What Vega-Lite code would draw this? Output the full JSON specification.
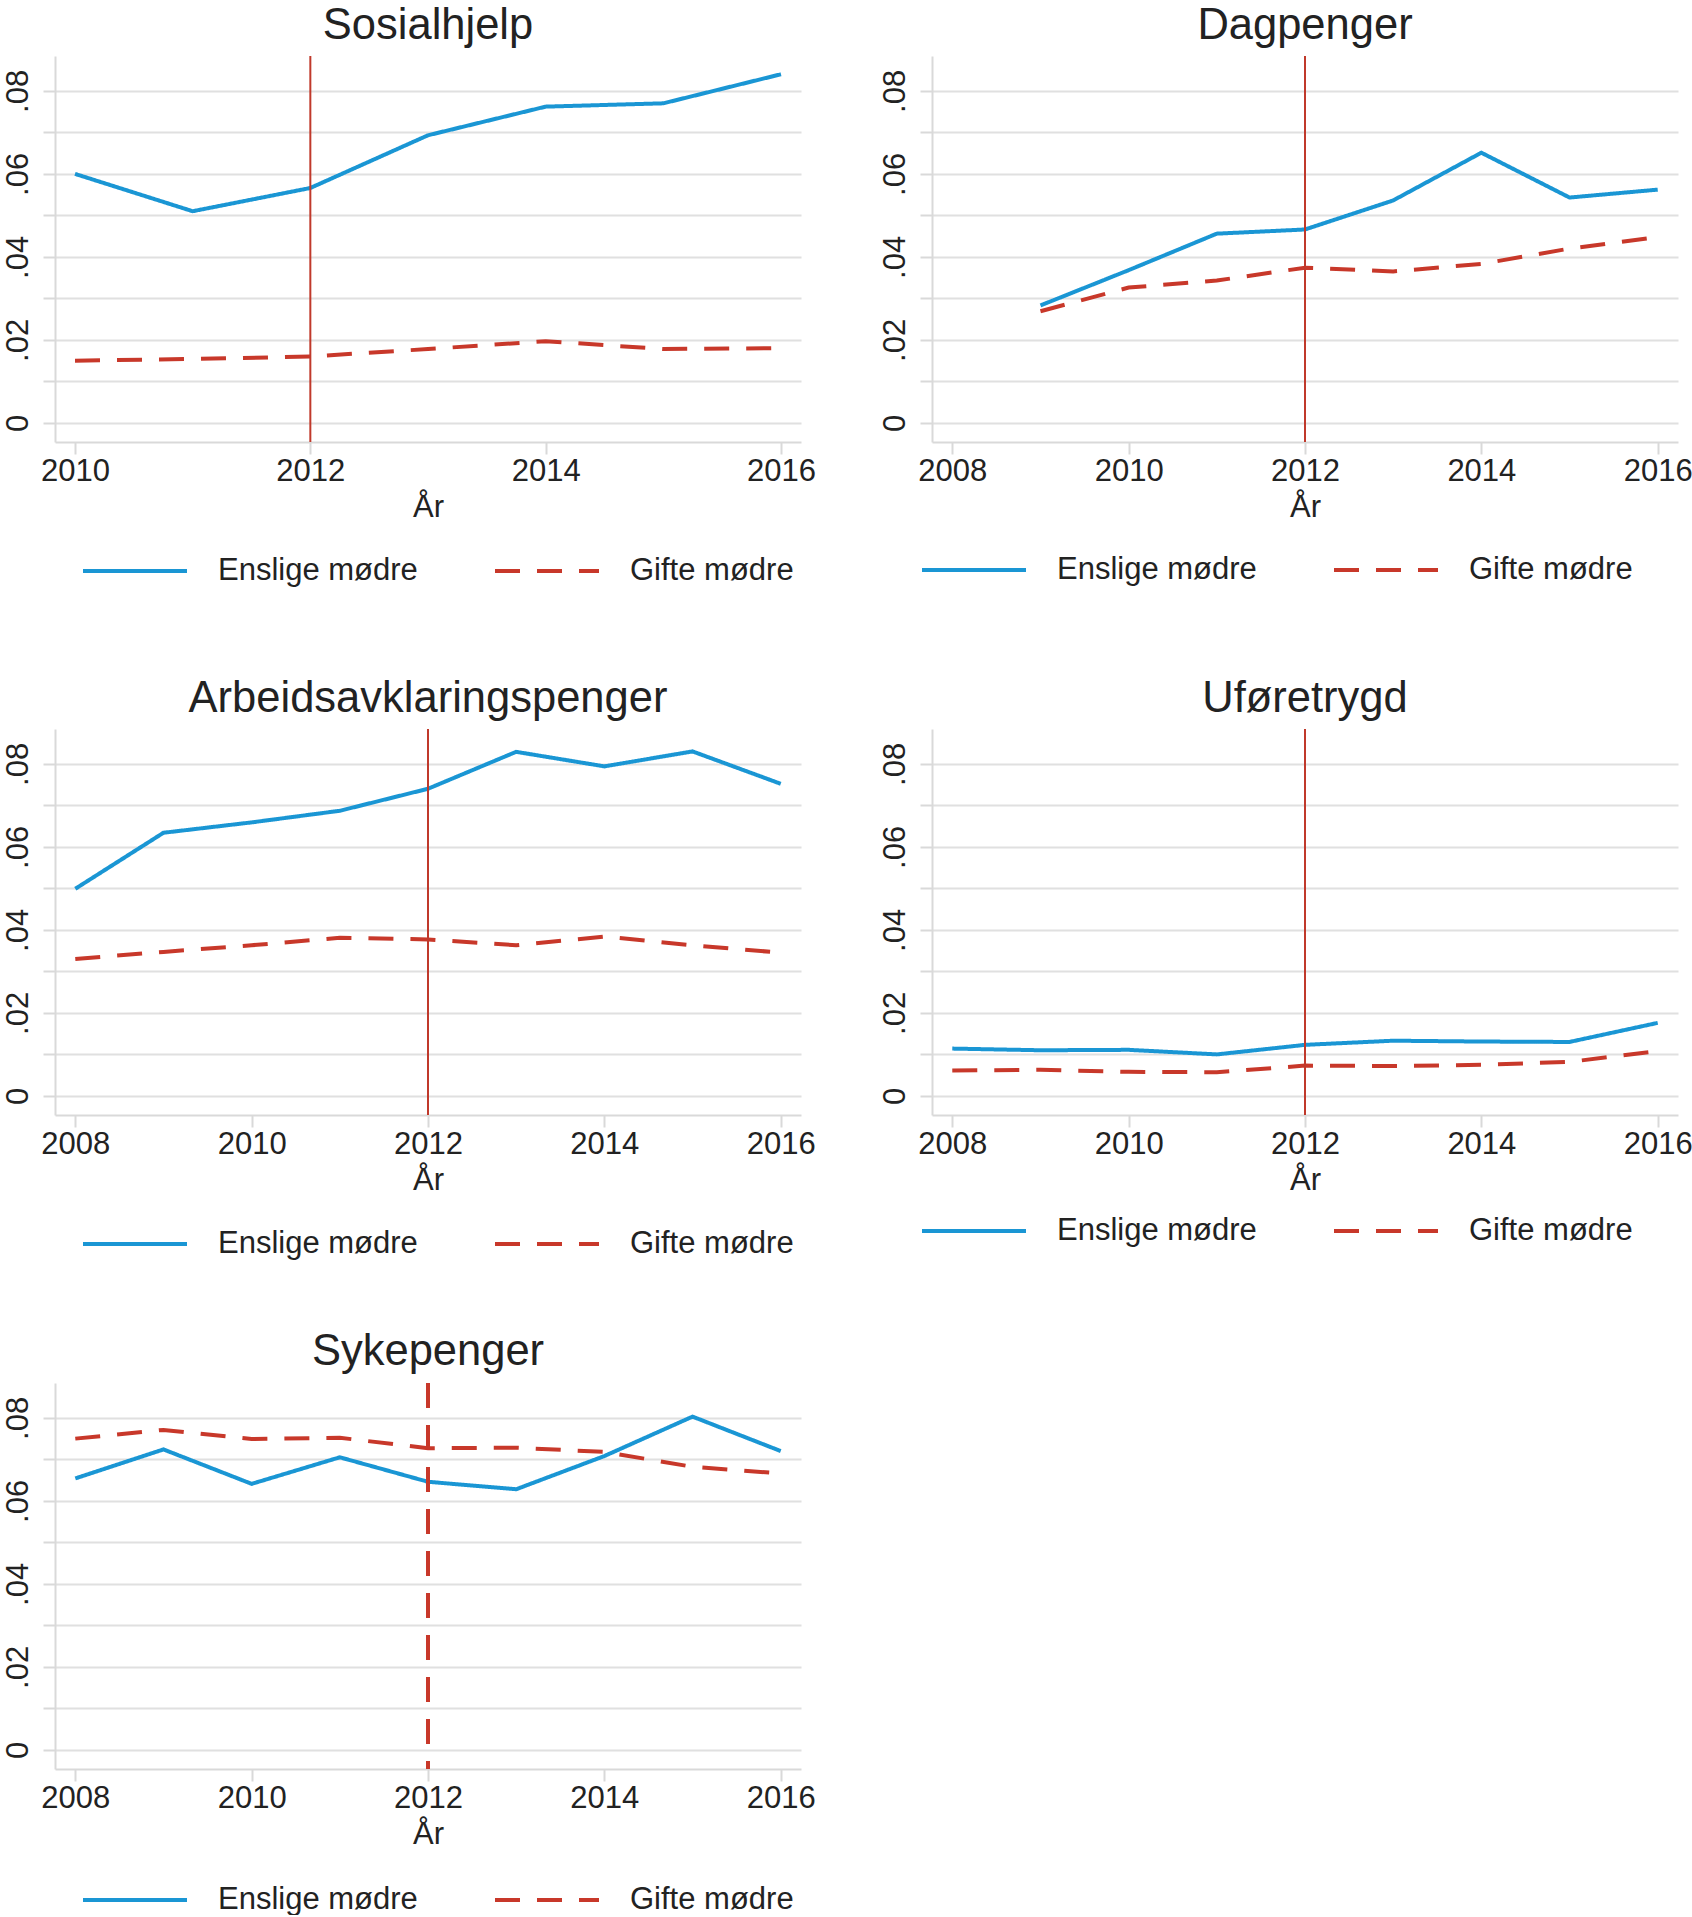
{
  "$schema": "https://vega.github.io/schema/vega-lite/v6.json",
  "background": "white",
  "padding": {"left": 1, "top": 3, "right": 0, "bottom": 0},
  "datasets": {
    "serier": [
      {"panel": "Sosialhjelp", "aar": 2010, "gruppe": "Enslige mødre", "andel": 0.0600},
      {"panel": "Sosialhjelp", "aar": 2011, "gruppe": "Enslige mødre", "andel": 0.0510},
      {"panel": "Sosialhjelp", "aar": 2012, "gruppe": "Enslige mødre", "andel": 0.0566},
      {"panel": "Sosialhjelp", "aar": 2013, "gruppe": "Enslige mødre", "andel": 0.0693},
      {"panel": "Sosialhjelp", "aar": 2014, "gruppe": "Enslige mødre", "andel": 0.0762},
      {"panel": "Sosialhjelp", "aar": 2015, "gruppe": "Enslige mødre", "andel": 0.0770},
      {"panel": "Sosialhjelp", "aar": 2016, "gruppe": "Enslige mødre", "andel": 0.0840},
      {"panel": "Sosialhjelp", "aar": 2010, "gruppe": "Gifte mødre", "andel": 0.0150},
      {"panel": "Sosialhjelp", "aar": 2011, "gruppe": "Gifte mødre", "andel": 0.0154},
      {"panel": "Sosialhjelp", "aar": 2012, "gruppe": "Gifte mødre", "andel": 0.0160},
      {"panel": "Sosialhjelp", "aar": 2013, "gruppe": "Gifte mødre", "andel": 0.0178},
      {"panel": "Sosialhjelp", "aar": 2014, "gruppe": "Gifte mødre", "andel": 0.0197},
      {"panel": "Sosialhjelp", "aar": 2015, "gruppe": "Gifte mødre", "andel": 0.0178},
      {"panel": "Sosialhjelp", "aar": 2016, "gruppe": "Gifte mødre", "andel": 0.0180},

      {"panel": "Dagpenger", "aar": 2009, "gruppe": "Enslige mødre", "andel": 0.0283},
      {"panel": "Dagpenger", "aar": 2010, "gruppe": "Enslige mødre", "andel": 0.0368},
      {"panel": "Dagpenger", "aar": 2011, "gruppe": "Enslige mødre", "andel": 0.0456},
      {"panel": "Dagpenger", "aar": 2012, "gruppe": "Enslige mødre", "andel": 0.0466},
      {"panel": "Dagpenger", "aar": 2013, "gruppe": "Enslige mødre", "andel": 0.0536},
      {"panel": "Dagpenger", "aar": 2014, "gruppe": "Enslige mødre", "andel": 0.0651},
      {"panel": "Dagpenger", "aar": 2015, "gruppe": "Enslige mødre", "andel": 0.0543},
      {"panel": "Dagpenger", "aar": 2016, "gruppe": "Enslige mødre", "andel": 0.0562},
      {"panel": "Dagpenger", "aar": 2009, "gruppe": "Gifte mødre", "andel": 0.0269},
      {"panel": "Dagpenger", "aar": 2010, "gruppe": "Gifte mødre", "andel": 0.0326},
      {"panel": "Dagpenger", "aar": 2011, "gruppe": "Gifte mødre", "andel": 0.0343},
      {"panel": "Dagpenger", "aar": 2012, "gruppe": "Gifte mødre", "andel": 0.0374},
      {"panel": "Dagpenger", "aar": 2013, "gruppe": "Gifte mødre", "andel": 0.0365},
      {"panel": "Dagpenger", "aar": 2014, "gruppe": "Gifte mødre", "andel": 0.0383},
      {"panel": "Dagpenger", "aar": 2015, "gruppe": "Gifte mødre", "andel": 0.0420},
      {"panel": "Dagpenger", "aar": 2016, "gruppe": "Gifte mødre", "andel": 0.0448},

      {"panel": "Arbeidsavklaringspenger", "aar": 2008, "gruppe": "Enslige mødre", "andel": 0.0499},
      {"panel": "Arbeidsavklaringspenger", "aar": 2009, "gruppe": "Enslige mødre", "andel": 0.0634},
      {"panel": "Arbeidsavklaringspenger", "aar": 2010, "gruppe": "Enslige mødre", "andel": 0.0659},
      {"panel": "Arbeidsavklaringspenger", "aar": 2011, "gruppe": "Enslige mødre", "andel": 0.0687},
      {"panel": "Arbeidsavklaringspenger", "aar": 2012, "gruppe": "Enslige mødre", "andel": 0.0740},
      {"panel": "Arbeidsavklaringspenger", "aar": 2013, "gruppe": "Enslige mødre", "andel": 0.0829},
      {"panel": "Arbeidsavklaringspenger", "aar": 2014, "gruppe": "Enslige mødre", "andel": 0.0794},
      {"panel": "Arbeidsavklaringspenger", "aar": 2015, "gruppe": "Enslige mødre", "andel": 0.0830},
      {"panel": "Arbeidsavklaringspenger", "aar": 2016, "gruppe": "Enslige mødre", "andel": 0.0752},
      {"panel": "Arbeidsavklaringspenger", "aar": 2008, "gruppe": "Gifte mødre", "andel": 0.0330},
      {"panel": "Arbeidsavklaringspenger", "aar": 2009, "gruppe": "Gifte mødre", "andel": 0.0347},
      {"panel": "Arbeidsavklaringspenger", "aar": 2010, "gruppe": "Gifte mødre", "andel": 0.0363},
      {"panel": "Arbeidsavklaringspenger", "aar": 2011, "gruppe": "Gifte mødre", "andel": 0.0381},
      {"panel": "Arbeidsavklaringspenger", "aar": 2012, "gruppe": "Gifte mødre", "andel": 0.0377},
      {"panel": "Arbeidsavklaringspenger", "aar": 2013, "gruppe": "Gifte mødre", "andel": 0.0363},
      {"panel": "Arbeidsavklaringspenger", "aar": 2014, "gruppe": "Gifte mødre", "andel": 0.0384},
      {"panel": "Arbeidsavklaringspenger", "aar": 2015, "gruppe": "Gifte mødre", "andel": 0.0363},
      {"panel": "Arbeidsavklaringspenger", "aar": 2016, "gruppe": "Gifte mødre", "andel": 0.0345},

      {"panel": "Uføretrygd", "aar": 2008, "gruppe": "Enslige mødre", "andel": 0.0114},
      {"panel": "Uføretrygd", "aar": 2009, "gruppe": "Enslige mødre", "andel": 0.0110},
      {"panel": "Uføretrygd", "aar": 2010, "gruppe": "Enslige mødre", "andel": 0.0111},
      {"panel": "Uføretrygd", "aar": 2011, "gruppe": "Enslige mødre", "andel": 0.0100},
      {"panel": "Uføretrygd", "aar": 2012, "gruppe": "Enslige mødre", "andel": 0.0123},
      {"panel": "Uføretrygd", "aar": 2013, "gruppe": "Enslige mødre", "andel": 0.0133},
      {"panel": "Uføretrygd", "aar": 2014, "gruppe": "Enslige mødre", "andel": 0.0131},
      {"panel": "Uføretrygd", "aar": 2015, "gruppe": "Enslige mødre", "andel": 0.0130},
      {"panel": "Uføretrygd", "aar": 2016, "gruppe": "Enslige mødre", "andel": 0.0176},
      {"panel": "Uføretrygd", "aar": 2008, "gruppe": "Gifte mødre", "andel": 0.0061},
      {"panel": "Uføretrygd", "aar": 2009, "gruppe": "Gifte mødre", "andel": 0.0063},
      {"panel": "Uføretrygd", "aar": 2010, "gruppe": "Gifte mødre", "andel": 0.0058},
      {"panel": "Uføretrygd", "aar": 2011, "gruppe": "Gifte mødre", "andel": 0.0057},
      {"panel": "Uføretrygd", "aar": 2012, "gruppe": "Gifte mødre", "andel": 0.0073},
      {"panel": "Uføretrygd", "aar": 2013, "gruppe": "Gifte mødre", "andel": 0.0072},
      {"panel": "Uføretrygd", "aar": 2014, "gruppe": "Gifte mødre", "andel": 0.0075},
      {"panel": "Uføretrygd", "aar": 2015, "gruppe": "Gifte mødre", "andel": 0.0082},
      {"panel": "Uføretrygd", "aar": 2016, "gruppe": "Gifte mødre", "andel": 0.0108},

      {"panel": "Sykepenger", "aar": 2008, "gruppe": "Enslige mødre", "andel": 0.0654},
      {"panel": "Sykepenger", "aar": 2009, "gruppe": "Enslige mødre", "andel": 0.0724},
      {"panel": "Sykepenger", "aar": 2010, "gruppe": "Enslige mødre", "andel": 0.0641},
      {"panel": "Sykepenger", "aar": 2011, "gruppe": "Enslige mødre", "andel": 0.0705},
      {"panel": "Sykepenger", "aar": 2012, "gruppe": "Enslige mødre", "andel": 0.0646},
      {"panel": "Sykepenger", "aar": 2013, "gruppe": "Enslige mødre", "andel": 0.0628},
      {"panel": "Sykepenger", "aar": 2014, "gruppe": "Enslige mødre", "andel": 0.0708},
      {"panel": "Sykepenger", "aar": 2015, "gruppe": "Enslige mødre", "andel": 0.0803},
      {"panel": "Sykepenger", "aar": 2016, "gruppe": "Enslige mødre", "andel": 0.0720},
      {"panel": "Sykepenger", "aar": 2008, "gruppe": "Gifte mødre", "andel": 0.0750},
      {"panel": "Sykepenger", "aar": 2009, "gruppe": "Gifte mødre", "andel": 0.0771},
      {"panel": "Sykepenger", "aar": 2010, "gruppe": "Gifte mødre", "andel": 0.0749},
      {"panel": "Sykepenger", "aar": 2011, "gruppe": "Gifte mødre", "andel": 0.0752},
      {"panel": "Sykepenger", "aar": 2012, "gruppe": "Gifte mødre", "andel": 0.0727},
      {"panel": "Sykepenger", "aar": 2013, "gruppe": "Gifte mødre", "andel": 0.0728},
      {"panel": "Sykepenger", "aar": 2014, "gruppe": "Gifte mødre", "andel": 0.0718},
      {"panel": "Sykepenger", "aar": 2015, "gruppe": "Gifte mødre", "andel": 0.0682},
      {"panel": "Sykepenger", "aar": 2016, "gruppe": "Gifte mødre", "andel": 0.0666}
    ],
    "reform": [{"aar": 2012}]
  },
  "spacing": 90,
  "resolve": {
    "scale": {"color": "independent", "strokeDash": "independent", "x": "independent", "y": "independent"},
    "legend": {"color": "independent", "strokeDash": "independent"}
  },
  "vconcat": [
    {
      "spacing": 62,
      "resolve": {
        "scale": {"color": "independent", "strokeDash": "independent", "x": "independent", "y": "independent"},
        "legend": {"color": "independent", "strokeDash": "independent"}
      },
      "hconcat": [
        {
          "title": "Sosialhjelp",
          "width": 746, "height": 386,
          "layer": [
            {
              "data": {"name": "serier"},
              "transform": [{"filter": "datum.panel === 'Sosialhjelp'"}],
              "mark": {"type": "line", "strokeWidth": 4},
              "encoding": {
                "x": {"field": "aar", "type": "quantitative", "title": "År", "scale": {"domain": [2009.83, 2016.17], "nice": false, "zero": false}, "axis": {"values": [2010, 2012, 2014, 2016]}},
                "y": {"field": "andel", "type": "quantitative", "title": null, "scale": {"domain": [-0.0046, 0.0884], "nice": false, "zero": false}},
                "color": {"field": "gruppe", "type": "nominal", "title": null, "scale": {"domain": ["Enslige mødre", "Gifte mødre"], "range": ["#1a96d4", "#c8382a"]}, "legend": {"orient": "none", "direction": "horizontal", "legendX": 26, "legendY": 461}},
                "strokeDash": {"field": "gruppe", "type": "nominal", "title": null, "scale": {"domain": ["Enslige mødre", "Gifte mødre"], "range": [[1, 0], [25, 17]]}, "legend": {"orient": "none", "direction": "horizontal", "legendX": 26, "legendY": 461}}
              }
            },
            {
              "data": {"name": "reform"},
              "mark": {"type": "rule", "color": "#c0392b", "strokeWidth": 2},
              "encoding": {"x": {"field": "aar", "type": "quantitative"}}
            }
          ]
        },
        {
          "title": "Dagpenger",
          "width": 746, "height": 386,
          "layer": [
            {
              "data": {"name": "serier"},
              "transform": [{"filter": "datum.panel === 'Dagpenger'"}],
              "mark": {"type": "line", "strokeWidth": 4},
              "encoding": {
                "x": {"field": "aar", "type": "quantitative", "title": "År", "scale": {"domain": [2007.77, 2016.23], "nice": false, "zero": false}, "axis": {"values": [2008, 2010, 2012, 2014, 2016]}},
                "y": {"field": "andel", "type": "quantitative", "title": null, "scale": {"domain": [-0.0046, 0.0884], "nice": false, "zero": false}},
                "color": {"field": "gruppe", "type": "nominal", "title": null, "scale": {"domain": ["Enslige mødre", "Gifte mødre"], "range": ["#1a96d4", "#c8382a"]}, "legend": {"orient": "none", "direction": "horizontal", "legendX": -12, "legendY": 460}},
                "strokeDash": {"field": "gruppe", "type": "nominal", "title": null, "scale": {"domain": ["Enslige mødre", "Gifte mødre"], "range": [[1, 0], [25, 17]]}, "legend": {"orient": "none", "direction": "horizontal", "legendX": -12, "legendY": 460}}
              }
            },
            {
              "data": {"name": "reform"},
              "mark": {"type": "rule", "color": "#c0392b", "strokeWidth": 2},
              "encoding": {"x": {"field": "aar", "type": "quantitative"}}
            }
          ]
        }
      ]
    },
    {
      "spacing": 70,
      "resolve": {
        "scale": {"color": "independent", "strokeDash": "independent", "x": "independent", "y": "independent"},
        "legend": {"color": "independent", "strokeDash": "independent"}
      },
      "vconcat": [
        {
          "spacing": 62,
          "resolve": {
            "scale": {"color": "independent", "strokeDash": "independent", "x": "independent", "y": "independent"},
            "legend": {"color": "independent", "strokeDash": "independent"}
          },
          "hconcat": [
            {
              "title": "Arbeidsavklaringspenger",
              "width": 746, "height": 386,
              "layer": [
                {
                  "data": {"name": "serier"},
                  "transform": [{"filter": "datum.panel === 'Arbeidsavklaringspenger'"}],
                  "mark": {"type": "line", "strokeWidth": 4},
                  "encoding": {
                    "x": {"field": "aar", "type": "quantitative", "title": "År", "scale": {"domain": [2007.77, 2016.23], "nice": false, "zero": false}, "axis": {"values": [2008, 2010, 2012, 2014, 2016]}},
                    "y": {"field": "andel", "type": "quantitative", "title": null, "scale": {"domain": [-0.0046, 0.0884], "nice": false, "zero": false}},
                    "color": {"field": "gruppe", "type": "nominal", "title": null, "scale": {"domain": ["Enslige mødre", "Gifte mødre"], "range": ["#1a96d4", "#c8382a"]}, "legend": {"orient": "none", "direction": "horizontal", "legendX": 26, "legendY": 461}},
                    "strokeDash": {"field": "gruppe", "type": "nominal", "title": null, "scale": {"domain": ["Enslige mødre", "Gifte mødre"], "range": [[1, 0], [25, 17]]}, "legend": {"orient": "none", "direction": "horizontal", "legendX": 26, "legendY": 461}}
                  }
                },
                {
                  "data": {"name": "reform"},
                  "mark": {"type": "rule", "color": "#c0392b", "strokeWidth": 2},
                  "encoding": {"x": {"field": "aar", "type": "quantitative"}}
                }
              ]
            },
            {
              "title": "Uføretrygd",
              "width": 746, "height": 386,
              "layer": [
                {
                  "data": {"name": "serier"},
                  "transform": [{"filter": "datum.panel === 'Uføretrygd'"}],
                  "mark": {"type": "line", "strokeWidth": 4},
                  "encoding": {
                    "x": {"field": "aar", "type": "quantitative", "title": "År", "scale": {"domain": [2007.77, 2016.23], "nice": false, "zero": false}, "axis": {"values": [2008, 2010, 2012, 2014, 2016]}},
                    "y": {"field": "andel", "type": "quantitative", "title": null, "scale": {"domain": [-0.0046, 0.0884], "nice": false, "zero": false}},
                    "color": {"field": "gruppe", "type": "nominal", "title": null, "scale": {"domain": ["Enslige mødre", "Gifte mødre"], "range": ["#1a96d4", "#c8382a"]}, "legend": {"orient": "none", "direction": "horizontal", "legendX": -12, "legendY": 448}},
                    "strokeDash": {"field": "gruppe", "type": "nominal", "title": null, "scale": {"domain": ["Enslige mødre", "Gifte mødre"], "range": [[1, 0], [25, 17]]}, "legend": {"orient": "none", "direction": "horizontal", "legendX": -12, "legendY": 448}}
                  }
                },
                {
                  "data": {"name": "reform"},
                  "mark": {"type": "rule", "color": "#c0392b", "strokeWidth": 2},
                  "encoding": {"x": {"field": "aar", "type": "quantitative"}}
                }
              ]
            }
          ]
        },
        {
          "title": "Sykepenger",
          "width": 746, "height": 386,
          "layer": [
            {
              "data": {"name": "serier"},
              "transform": [{"filter": "datum.panel === 'Sykepenger'"}],
              "mark": {"type": "line", "strokeWidth": 4},
              "encoding": {
                "x": {"field": "aar", "type": "quantitative", "title": "År", "scale": {"domain": [2007.77, 2016.23], "nice": false, "zero": false}, "axis": {"values": [2008, 2010, 2012, 2014, 2016]}},
                "y": {"field": "andel", "type": "quantitative", "title": null, "scale": {"domain": [-0.0046, 0.0884], "nice": false, "zero": false}},
                "color": {"field": "gruppe", "type": "nominal", "title": null, "scale": {"domain": ["Enslige mødre", "Gifte mødre"], "range": ["#1a96d4", "#c8382a"]}, "legend": {"orient": "none", "direction": "horizontal", "legendX": 26, "legendY": 463}},
                "strokeDash": {"field": "gruppe", "type": "nominal", "title": null, "scale": {"domain": ["Enslige mødre", "Gifte mødre"], "range": [[1, 0], [25, 17]]}, "legend": {"orient": "none", "direction": "horizontal", "legendX": 26, "legendY": 463}}
              }
            },
            {
              "data": {"name": "reform"},
              "mark": {"type": "rule", "color": "#c8382a", "strokeWidth": 4, "strokeDash": [25, 17]},
              "encoding": {"x": {"field": "aar", "type": "quantitative"}}
            }
          ]
        }
      ]
    }
  ],
  "config": {
    "font": "Liberation Sans",
    "view": {"stroke": null},
    "title": {"fontSize": 43.5, "fontWeight": "normal", "color": "#222222", "anchor": "middle", "frame": "group", "offset": 7},
    "axis": {
      "labelFontSize": 31, "labelColor": "#222222",
      "titleFontSize": 31, "titleFontWeight": "normal", "titleColor": "#222222",
      "domainColor": "#d9d9d9", "domainWidth": 2,
      "tickColor": "#d9d9d9", "tickWidth": 2, "tickSize": 12,
      "gridColor": "#e0e0e0", "gridWidth": 2
    },
    "axisX": {"grid": false, "format": "d", "labelPadding": 2, "titlePadding": 6, "labelFlush": false},
    "axisY": {"grid": true, "labelAngle": 270, "labelPadding": 9,
      "values": [0, 0.02, 0.04, 0.06, 0.08],
      "labelExpr": "datum.value == 0 ? '0' : replace(format(datum.value, '.2f'), '0.', '.')"},
    "legend": {
      "direction": "horizontal",
      "symbolType": "stroke", "symbolSize": 10816, "symbolStrokeWidth": 4,
      "labelFontSize": 31, "labelColor": "#222222", "labelOffset": 29, "labelLimit": 0,
      "columnPadding": 69, "padding": 0
    }
  }
}
